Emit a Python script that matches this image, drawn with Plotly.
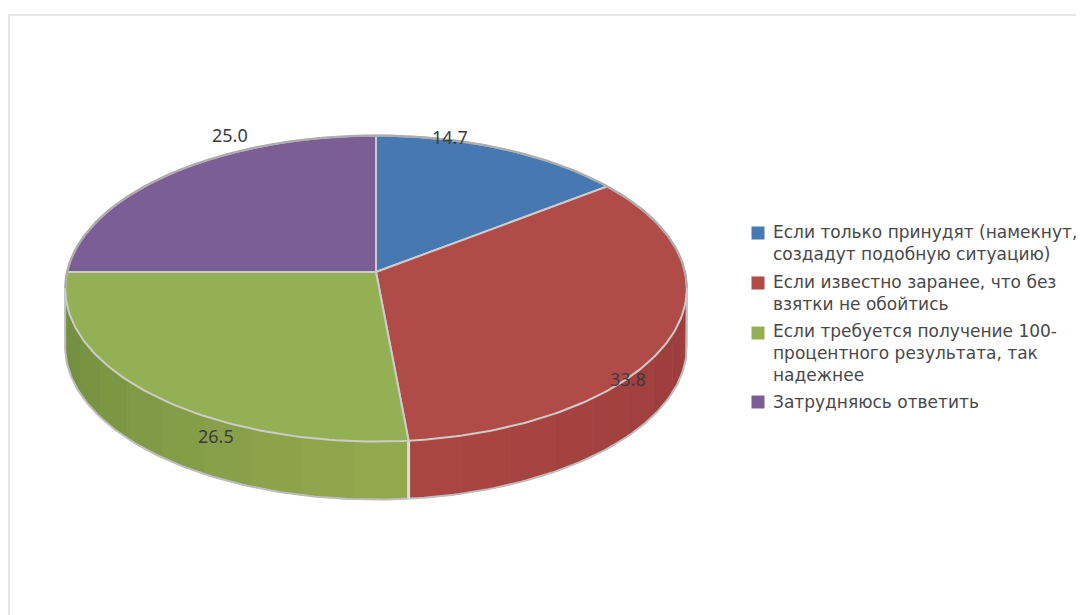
import math
import plotly.graph_objects as go

CATEGORIES = [
    "Если только принудят (намекнут,<br>создадут подобную ситуацию)",
    "Если известно заранее, что без<br>взятки не обойтись",
    "Если требуется получение 100-<br>процентного результата, так<br>надежнее",
    "Затрудняюсь ответить",
]
VALUES = [14.7, 33.8, 26.5, 25.0]
COLORS = ["#4678B2", "#B14B47", "#94B055", "#7A5E95"]
WALL_DARK = ["#365E8E", "#9A3D3B", "#6E8D3E", "#5E4775"]
WALL_LIGHT = ["#3F6CA0", "#AD4643", "#93A94E", "#6C5285"]
LABEL_POS = [(450, 137), (628, 379), (216, 436), (230, 135)]
KEY_X, TEXT_X = 758, 771
KEY_Y = [233, 283, 333, 402]
TEXT_Y = [242.5, 292.5, 353, 402]

CX, CY, RX, B, K, DEPTH = 376.0, 272.0, 309.0, 151.2, 0.108, 58.0


def project(deg, r=1.0, drop=0.0):
    """Clockwise angle from 12 o'clock on the disc -> page position under a perspective tilt."""
    a = math.radians(deg)
    u, v = r * math.sin(a), -r * math.cos(a)
    w = 1 - K * v
    return CX + RX * u / w, CY + B * v / w + drop


def arc(a0, a1, drop=0.0):
    n = max(2, int(abs(a1 - a0)) + 1)
    pts = [project(a0 + (a1 - a0) * i / (n - 1), 1.0, drop) for i in range(n)]
    return [p[0] for p in pts], [p[1] for p in pts]


def hexmix(c1, c2, t):
    a = [int(c1[i:i + 2], 16) for i in (1, 3, 5)]
    b = [int(c2[i:i + 2], 16) for i in (1, 3, 5)]
    return "rgb(%d,%d,%d)" % tuple(round(x + (y - x) * t) for x, y in zip(a, b))


total = sum(VALUES)
bounds = [0.0]
for val in VALUES:
    bounds.append(bounds[-1] + 360.0 * val / total)

fig = go.Figure()

# frame of the chart area (open to the right and the bottom)
fig.add_trace(go.Scatter(x=[9, 9, 1084], y=[615, 15, 15], mode="lines",
                         line=dict(color="#DEDEDE", width=1.5),
                         showlegend=False, hoverinfo="skip"))

# side wall in stepped bands, front half only
STEP = 9.0
VIS0, VIS1 = 96.0, 264.0
for i in range(len(VALUES)):
    a0, a1 = max(bounds[i], VIS0), min(bounds[i + 1], VIS1)
    if a1 <= a0:
        continue
    n = max(1, math.ceil((a1 - a0) / STEP))
    for j in range(n):
        s0 = a0 + (a1 - a0) * j / n
        s1 = a0 + (a1 - a0) * (j + 1) / n
        mid = (s0 + s1) / 2
        t = 1 - min(1.0, abs(mid - 180.0) / 84.0)
        col = hexmix(WALL_DARK[i], WALL_LIGHT[i], t)
        xt, yt = arc(s0, s1)
        xb, yb = arc(s0, s1, DEPTH)
        fig.add_trace(go.Scatter(x=xt + xb[::-1] + [xt[0]], y=yt + yb[::-1] + [yt[0]],
                                 mode="lines", fill="toself", fillcolor=col,
                                 line=dict(color=col, width=0.8),
                                 showlegend=False, hoverinfo="skip"))

# wall outlines
xb, yb = arc(VIS0, VIS1, DEPTH)
xr, yr = project(VIS0)
xl, yl = project(VIS1)
fig.add_trace(go.Scatter(x=[xr] + xb + [xl], y=[yr] + yb + [yl], mode="lines",
                         line=dict(color="#BDBDBD", width=2),
                         showlegend=False, hoverinfo="skip"))
x0, y0 = project(bounds[2])
fig.add_trace(go.Scatter(x=[x0, x0], y=[y0, y0 + DEPTH], mode="lines",
                         line=dict(color="#DDDDDD", width=3),
                         showlegend=False, hoverinfo="skip"))

# top face
for i in range(len(VALUES)):
    xa, ya = arc(bounds[i], bounds[i + 1])
    fig.add_trace(go.Scatter(x=[CX] + xa + [CX], y=[CY] + ya + [CY], mode="lines",
                             fill="toself", fillcolor=COLORS[i],
                             line=dict(color="#CCCCCC", width=2),
                             showlegend=False, hoverinfo="skip"))

# darker rim round the back of the disc
xa, ya = arc(VIS1 - 360.0, VIS0)
fig.add_trace(go.Scatter(x=xa, y=ya, mode="lines", line=dict(color="#ADADAD", width=2.2),
                         showlegend=False, hoverinfo="skip"))

# legend keys and texts
fig.add_trace(go.Scatter(x=[KEY_X] * len(KEY_Y), y=KEY_Y, mode="markers", showlegend=False,
                         hoverinfo="skip",
                         marker=dict(symbol="square", size=13, color=COLORS)))
for name, ty in zip(CATEGORIES, TEXT_Y):
    fig.add_annotation(x=TEXT_X, y=ty, text=name, showarrow=False, align="left",
                       xanchor="left", yanchor="middle",
                       font=dict(family="DejaVu Sans", size=17, color="#484848"))

for (lx, ly), val in zip(LABEL_POS, VALUES):
    fig.add_annotation(x=lx, y=ly, text=f"{val:.1f}", showarrow=False,
                       font=dict(family="Noto Sans", size=18, color="#3C3C3C"))

fig.update_layout(
    width=1068, height=607, margin=dict(l=0, r=0, t=0, b=0),
    paper_bgcolor="white", plot_bgcolor="white", showlegend=False,
    xaxis=dict(range=[8, 1076], visible=False, fixedrange=True),
    yaxis=dict(range=[615, 8], visible=False, fixedrange=True),
    font=dict(family="Noto Sans", size=16, color="#404040"),
)

fig.write_html("out.html")
